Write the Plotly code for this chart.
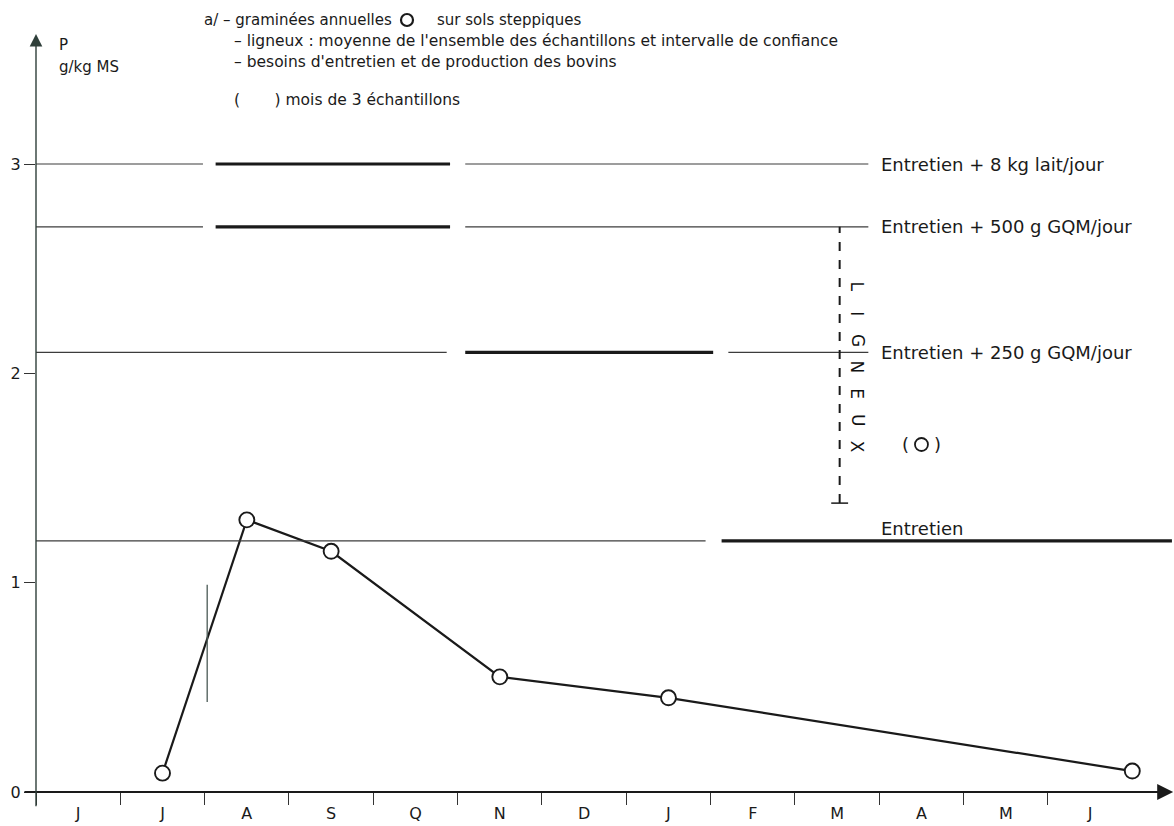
import plotly.graph_objects as go

# Month axis (June to June), one unit per month
months = ["J", "J", "A", "S", "Q", "N", "D", "J", "F", "M", "A", "M", "J"]

# Annual grasses on steppe soils: P content (g/kg DM)
grass_month = [1.5, 2.5, 3.5, 5.5, 7.5, 13.0]
grass_p = [0.09, 1.30, 1.15, 0.55, 0.45, 0.10]

# Confidence interval drawn at the end of July
grass_ci_month = 2.03
grass_ci_low = 0.43
grass_ci_high = 0.99

# Isolated 3-sample value in April
grass_3s_month = 10.5
grass_3s_p = 1.66

# Woody plants: confidence interval in March
ligneux_month = 9.53
ligneux_low = 1.38
ligneux_high = 2.70

# Cattle requirements: level, label, (start, end, heavy) segments in months
req_levels = [3.0, 2.7, 2.1, 1.2]
req_labels = [
    "Entretien + 8 kg lait/jour",
    "Entretien + 500 g GQM/jour",
    "Entretien + 250 g GQM/jour",
    "Entretien",
]
req_segments = [
    [(0.0, 1.98, False), (2.13, 4.91, True), (5.09, 9.87, False)],
    [(0.0, 1.98, False), (2.13, 4.91, True), (5.09, 9.87, False)],
    [(0.0, 4.87, False), (5.09, 8.03, True), (8.21, 9.87, False)],
    [(0.0, 7.94, False), (8.13, 13.47, True)],
]

FONT = "DejaVu Sans"
INK = "#1a1a1a"
THIN = "#3c3c3c"

# pixel geometry of the plotting frame
W, H = 1174, 826
ML, MB = 36, 34
PX_PER_MONTH = 84.33
PX_PER_UNIT = 209.33
x_max = (W - ML) / PX_PER_MONTH
y_max = (H - MB) / PX_PER_UNIT


def px_x(px):
    return (px - ML) / PX_PER_MONTH


def px_y(py):
    return (H - MB - py) / PX_PER_UNIT


fig = go.Figure()

shapes = []
annotations = []

# requirement lines
for lvl, segs in zip(req_levels, req_segments):
    for x0, x1, heavy in segs:
        shapes.append(dict(
            type="line", xref="x", yref="y", x0=x0, x1=x1, y0=lvl, y1=lvl,
            line=dict(color=INK if heavy else THIN, width=3.2 if heavy else 1.2),
        ))

# labels sit on their line, except the maintenance one which sits just above it
label_dy = [0.0, 0.0, 0.0, 0.061]
for lvl, lab, dy in zip(req_levels, req_labels, label_dy):
    annotations.append(dict(
        x=10.0, y=lvl + dy, xref="x", yref="y", text=lab, showarrow=False,
        xanchor="left", yanchor="middle",
        font=dict(family=FONT, size=18, color=INK),
    ))

# woody plants interval (dashed) with bottom cap
shapes.append(dict(
    type="line", xref="x", yref="y", x0=ligneux_month, x1=ligneux_month,
    y0=ligneux_low, y1=ligneux_high, line=dict(color=INK, width=2, dash="dash"),
))
shapes.append(dict(
    type="line", xref="x", yref="y", x0=ligneux_month - 0.1, x1=ligneux_month + 0.1,
    y0=ligneux_low, y1=ligneux_low, line=dict(color=INK, width=1.5),
))
for i, ch in enumerate("LIGNEUX"):
    annotations.append(dict(
        x=9.74, y=2.413 - i * 0.1275, xref="x", yref="y", text=ch, showarrow=False,
        textangle=90, font=dict(family=FONT, size=17, color="#111"),
        xanchor="center", yanchor="middle",
    ))

# grass confidence bar
shapes.append(dict(
    type="line", xref="x", yref="y", x0=grass_ci_month, x1=grass_ci_month,
    y0=grass_ci_low, y1=grass_ci_high, line=dict(color="#4a5a55", width=1.3),
))

# axes drawn as arrows
annotations.append(dict(
    x=x_max - 0.01, y=0, ax=-0.155, ay=0, xref="x", yref="y", axref="x", ayref="y",
    text="", showarrow=True, arrowhead=2, arrowsize=1.6, arrowwidth=2, arrowcolor=INK,
))
annotations.append(dict(
    x=0, y=px_y(34), ax=0, ay=-0.075, xref="x", yref="y", axref="x", ayref="y",
    text="", showarrow=True, arrowhead=2, arrowsize=1.8, arrowwidth=1.4, arrowcolor="#2f3f3a",
))

# axis title
annotations.append(dict(x=px_x(57), y=px_y(45), xref="x", yref="y", text="P",
                        showarrow=False, xanchor="left", yanchor="middle",
                        font=dict(family=FONT, size=15, color=INK)))
annotations.append(dict(x=px_x(57), y=px_y(67), xref="x", yref="y", text="g/kg MS",
                        showarrow=False, xanchor="left", yanchor="middle",
                        font=dict(family=FONT, size=15, color=INK)))

# key text
key_lines = [
    (202, 20, 15, "a/ – graminées annuelles"),
    (435, 20, 15, "sur sols steppiques"),
    (232, 41, 15.5, "– ligneux : moyenne de l'ensemble des échantillons et intervalle de confiance"),
    (232, 62, 15.5, "– besoins d'entretien et de production des bovins"),
    (232, 100, 15.5, "(       ) mois de 3 échantillons"),
]
for px, py, fs, txt in key_lines:
    annotations.append(dict(x=px_x(px), y=px_y(py), xref="x", yref="y", text=txt,
                            showarrow=False, xanchor="left", yanchor="middle",
                            font=dict(family=FONT, size=fs, color=INK)))

# parentheses around the 3-sample point
annotations.append(dict(x=grass_3s_month - 0.19, y=grass_3s_p, xref="x", yref="y", text="(",
                        showarrow=False, font=dict(family=FONT, size=18, color=INK)))
annotations.append(dict(x=grass_3s_month + 0.19, y=grass_3s_p, xref="x", yref="y", text=")",
                        showarrow=False, font=dict(family=FONT, size=18, color=INK)))

circle_marker = dict(symbol="circle", size=15, color="white", line=dict(color=INK, width=1.9))

fig.add_trace(go.Scatter(
    x=grass_month, y=grass_p, mode="lines+markers",
    line=dict(color=INK, width=2.2), marker=circle_marker, cliponaxis=False,
    showlegend=False, hoverinfo="skip",
))
fig.add_trace(go.Scatter(
    x=[grass_3s_month], y=[grass_3s_p], mode="markers",
    marker=dict(symbol="circle", size=13, color="white", line=dict(color=INK, width=1.8)),
    showlegend=False, hoverinfo="skip",
))
# key symbol
fig.add_trace(go.Scatter(
    x=[px_x(407)], y=[px_y(20)], mode="markers",
    marker=dict(symbol="circle", size=12, color="white", line=dict(color=INK, width=2.2)),
    showlegend=False, hoverinfo="skip", cliponaxis=False,
))

fig.update_layout(
    width=W, height=H,
    margin=dict(l=ML, r=0, t=0, b=MB),
    paper_bgcolor="white", plot_bgcolor="white",
    shapes=shapes, annotations=annotations,
    xaxis=dict(
        range=[0, x_max], showgrid=False, zeroline=False, showline=False,
        tickmode="array", tickvals=[i + 0.5 for i in range(len(months))], ticktext=months,
        ticks="", ticklabelstandoff=10,
        tickfont=dict(family=FONT, size=16, color=INK),
        minor=dict(tickmode="array", tickvals=list(range(len(months))), ticks="outside",
                   ticklen=12, tickwidth=1.3, tickcolor="#333"),
    ),
    yaxis=dict(
        range=[0, y_max], showgrid=False, zeroline=False, showline=False,
        tickmode="array", tickvals=[0, 1, 2, 3], ticktext=["0", "1", "2", "3"],
        ticks="outside", ticklen=11, tickwidth=1.2, tickcolor="#333",
        tickfont=dict(family=FONT, size=16, color=INK),
    ),
)

fig.write_html("out.html")
